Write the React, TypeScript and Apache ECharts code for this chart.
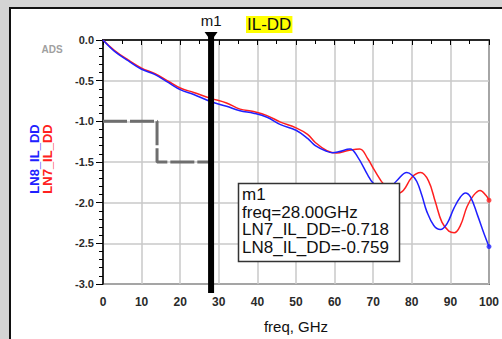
import React, { useEffect, useRef } from "react";
import * as echarts from "echarts";

// LN7_IL_DD (red) : [freq GHz, dB]
const ln7Data: [number, number][] = [
  [0, 0], [3, -0.13], [6.5, -0.245], [10, -0.345], [13.5, -0.415], [17, -0.51],
  [20, -0.59], [23.5, -0.645], [28, -0.718], [32, -0.775], [35.5, -0.85], [39, -0.88],
  [42.5, -0.93], [46, -1.01], [50, -1.08], [53, -1.16], [55, -1.26], [58, -1.36],
  [60.5, -1.39], [63.5, -1.36], [66.5, -1.34], [68.6, -1.46], [70.2, -1.59], [73, -1.79],
  [76.1, -1.89], [77.8, -1.85], [80, -1.69], [82.3, -1.63], [84.3, -1.73], [86.1, -1.99],
  [87.8, -2.24], [89.6, -2.35], [91, -2.37], [92.6, -2.28], [94.3, -2.05], [96, -1.91],
  [97.7, -1.85], [99.2, -1.91], [100, -1.97],
];

// LN8_IL_DD (blue)
const ln8Data: [number, number][] = [
  [0, 0], [3, -0.14], [6.5, -0.255], [10, -0.36], [13.5, -0.425], [17, -0.525],
  [20, -0.61], [23.5, -0.67], [28, -0.759], [32, -0.815], [35.5, -0.87], [39, -0.9],
  [42.5, -0.95], [46, -1.04], [50, -1.11], [53, -1.21], [55, -1.3], [58, -1.37],
  [59.5, -1.385], [61, -1.375], [64, -1.34], [66, -1.44], [68.6, -1.66], [70, -1.76],
  [73.3, -1.85], [76.1, -1.73], [78.7, -1.63], [80, -1.66], [81.3, -1.74], [82.6, -1.91],
  [83.9, -2.11], [85.7, -2.28], [87.4, -2.33], [89.1, -2.26], [90.9, -2.07], [92.6, -1.93],
  [93.9, -1.88], [95.2, -1.93], [97, -2.15], [98.7, -2.38], [100, -2.54],
];

// Limit mask (gray dashed step)
const limitData: [number, number][] = [
  [0, -1.0], [14, -1.0], [14, -1.5], [28, -1.5],
];

const markerName = "m1";
const markerFreq = 28;
const markerReadout = [
  "m1",
  "freq=28.00GHz",
  "LN7_IL_DD=-0.718",
  "LN8_IL_DD=-0.759",
];

const FONT = "Liberation Sans, Arial, sans-serif";

export default function App() {
  const ref = useRef<HTMLDivElement>(null);

  useEffect(() => {
    const chart = echarts.init(ref.current!, null, { renderer: "svg" });
    chart.setOption({
      animation: false,
      backgroundColor: "transparent",
      grid: {
        left: 103,
        top: 40,
        right: 10,
        bottom: 51,
        show: true,
        borderColor: "#000",
        borderWidth: 1.5,
      },
      xAxis: {
        type: "value",
        min: 0,
        max: 100,
        interval: 10,
        name: "freq, GHz",
        nameLocation: "middle",
        nameGap: 35,
        nameTextStyle: { fontSize: 15, color: "#111", fontFamily: FONT },
        axisLine: { lineStyle: { color: "#000", width: 1.5 } },
        axisTick: { show: true, length: 5, lineStyle: { color: "#000" } },
        minorTick: { show: true, splitNumber: 2, length: 4, lineStyle: { color: "#000" } },
        axisLabel: {
          margin: 12,
          fontSize: 12,
          fontWeight: "bold",
          color: "#2a2a2a",
          fontFamily: FONT,
        },
        splitLine: { show: true, lineStyle: { color: "#c8c8c8", width: 1.5 } },
      },
      yAxis: {
        type: "value",
        min: -3,
        max: 0,
        interval: 0.5,
        axisLine: { lineStyle: { color: "#000", width: 1.5 } },
        axisTick: { show: true, length: 7, lineStyle: { color: "#000" } },
        minorTick: { show: true, splitNumber: 5, length: 4, lineStyle: { color: "#000" } },
        axisLabel: {
          margin: 9,
          fontSize: 11,
          fontWeight: "bold",
          color: "#2a2a2a",
          fontFamily: FONT,
          formatter: (v: number) => v.toFixed(1),
        },
        splitLine: { show: true, lineStyle: { color: "#c8c8c8", width: 1.5 } },
      },
      series: [
        {
          name: "limit",
          type: "line",
          data: limitData,
          showSymbol: false,
          lineStyle: { color: "#6e6e6e", width: 3, type: [24, 3] },
          z: 1,
        },
        {
          name: "LN7_IL_DD",
          type: "line",
          data: ln7Data,
          smooth: 0.4,
          showSymbol: false,
          lineStyle: { color: "#ff2020", width: 1.5 },
          z: 3,
        },
        {
          name: "LN8_IL_DD",
          type: "line",
          data: ln8Data,
          smooth: 0.4,
          showSymbol: false,
          lineStyle: { color: "#2020ff", width: 1.5 },
          z: 3,
        },
        {
          type: "scatter",
          data: [
            { value: ln7Data[ln7Data.length - 1], itemStyle: { color: "#ff2020" } },
            { value: ln8Data[ln8Data.length - 1], itemStyle: { color: "#2020ff" } },
          ],
          symbolSize: 5,
          z: 4,
        },
      ],
    });

    const top = chart.convertToPixel({ xAxisIndex: 0, yAxisIndex: 0 }, [markerFreq, 0]) as number[];
    const bot = chart.convertToPixel({ xAxisIndex: 0, yAxisIndex: 0 }, [markerFreq, -3]) as number[];
    const mx = top[0];
    const ty = top[1];
    const by = bot[1];

    chart.setOption({
      graphic: [
        // marker line
        {
          type: "rect",
          z: 100,
          shape: { x: mx - 3, y: ty - 6, width: 6, height: by - ty + 15 },
          style: { fill: "#000" },
        },
        {
          type: "polygon",
          z: 101,
          shape: { points: [[mx - 6.5, ty - 8], [mx + 6.5, ty - 8], [mx, ty + 1]] },
          style: { fill: "#000" },
        },
        {
          type: "text",
          z: 101,
          x: mx,
          y: ty - 20,
          style: {
            text: markerName,
            fontSize: 15,
            fontFamily: FONT,
            fill: "#111",
            align: "center",
            verticalAlign: "middle",
          },
        },
        // title
        {
          type: "text",
          z: 101,
          x: 246,
          y: 16,
          style: {
            text: "IL-DD",
            fontSize: 17,
            lineHeight: 17,
            fontFamily: FONT,
            fill: "#111",
            backgroundColor: "#ffff00",
            padding: [0, 1, 0, 1],
          },
        },
        // ADS mark
        {
          type: "text",
          z: 101,
          x: 52,
          y: 49,
          style: {
            text: "ADS",
            fontSize: 10,
            fontWeight: "bold",
            fontFamily: FONT,
            fill: "#a0a0a0",
            align: "center",
            verticalAlign: "middle",
          },
        },
        // rotated y-axis name (two traces)
        {
          type: "text",
          z: 101,
          x: 41,
          y: 159,
          rotation: Math.PI / 2,
          style: {
            text: "{b|LN8_IL_DD}\n{r|LN7_IL_DD}",
            align: "center",
            verticalAlign: "middle",
            rich: {
              b: { fill: "#2020ff", fontSize: 13, fontWeight: "bold", fontFamily: FONT, lineHeight: 13 },
              r: { fill: "#ff2020", fontSize: 13, fontWeight: "bold", fontFamily: FONT, lineHeight: 13 },
            },
          },
        },
        // marker readout box
        {
          type: "rect",
          z: 100,
          shape: { x: 238.5, y: 183.5, width: 161, height: 78 },
          style: { fill: "#fff", stroke: "#333", lineWidth: 1.5 },
        },
        {
          type: "text",
          z: 101,
          x: 242,
          y: 186,
          style: {
            text: markerReadout.join("\n"),
            fontSize: 17,
            lineHeight: 17.5,
            fontFamily: FONT,
            fill: "#111",
          },
        },
      ],
    });

    return () => chart.dispose();
  }, []);

  return (
    <div
      style={{
        position: "fixed",
        left: 0,
        top: 0,
        width: 502,
        height: 339,
        background: "#d4d4d4",
        overflow: "hidden",
      }}
    >
      <div
        style={{
          position: "absolute",
          left: 9,
          top: 7,
          right: 0,
          bottom: 0,
          background: "#fff",
          borderLeft: "2px solid #111",
          borderTop: "2px solid #111",
        }}
      />
      <div ref={ref} style={{ position: "absolute", left: 0, top: 0, width: 502, height: 339 }} />
    </div>
  );
}
